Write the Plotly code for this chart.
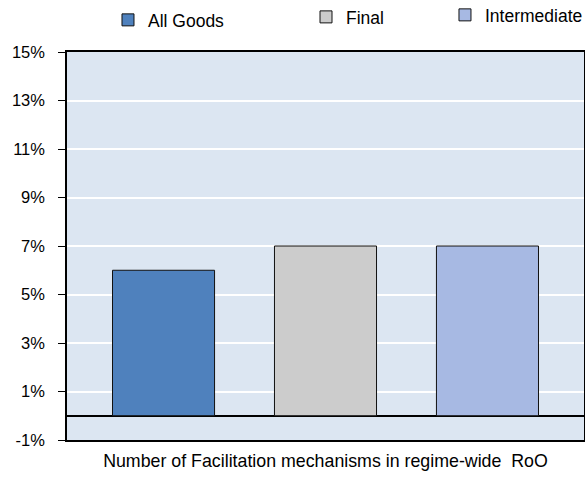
import plotly.graph_objects as go

categories = ["All Goods", "Final", "Intermediate"]
values = [6, 7, 7]
colors = ["#4F81BD", "#CCCCCC", "#A7B9E3"]
tick_vals = [-1, 1, 3, 5, 7, 9, 11, 13, 15]
tick_text = [f"{v}%" for v in tick_vals]
x_title = "Number of Facilitation mechanisms in regime-wide\u00a0 RoO"

FONT = "Liberation Sans, Arial, sans-serif"

legend_pos = [(0.0793, 1.0825), (0.4623, 1.0902), (0.7311, 1.0954)]
legend_names = ["legend", "legend2", "legend3"]

fig = go.Figure()
for i, (cat, val, col) in enumerate(zip(categories, values, colors)):
    fig.add_trace(go.Bar(
        x=[cat], y=[val], name=cat,
        marker=dict(color=col, line=dict(color="#111111", width=1)),
        width=0.63,
        legend=legend_names[i],
        showlegend=True,
    ))

layout_legends = {}
for name, (lx, ly) in zip(legend_names, legend_pos):
    layout_legends[name] = dict(
        x=lx, y=ly, xanchor="left", yanchor="middle",
        orientation="h", bgcolor="rgba(0,0,0,0)", borderwidth=0,
        font=dict(family=FONT, size=17.5, color="#000"),
    )

fig.update_layout(
    width=585, height=478,
    margin=dict(l=67, r=1, t=52, b=38, autoexpand=False),
    paper_bgcolor="white",
    plot_bgcolor="#DCE6F2",
    barmode="overlay",
    font=dict(family=FONT, size=16.5, color="#000"),
    **layout_legends,
)

fig.update_xaxes(
    type="category",
    categoryorder="array", categoryarray=categories,
    range=[-0.596, 2.596],
    showticklabels=False, ticks="",
    showgrid=False,
    showline=True, linecolor="#000", linewidth=1.5, mirror=True,
    automargin=False,
    title=dict(text=x_title, font=dict(family=FONT, size=17.8, color="#000"), standoff=14),
)
fig.update_yaxes(
    range=[-1, 15],
    tickvals=tick_vals, ticktext=tick_text,
    ticks="outside", ticklen=7, tickcolor="#000", tickwidth=1,
    ticklabelstandoff=10,
    showgrid=True, gridcolor="white", gridwidth=1.5,
    zeroline=True, zerolinecolor="#000", zerolinewidth=1.5,
    showline=True, linecolor="#000", linewidth=1.5, mirror=True,
    automargin=False,
    tickfont=dict(family=FONT, size=16.5, color="#000"),
)

fig.write_html(
    "out.html",
    config={"displayModeBar": False},
    post_script="document.body.style.margin='0';document.body.style.padding='0';",
)
